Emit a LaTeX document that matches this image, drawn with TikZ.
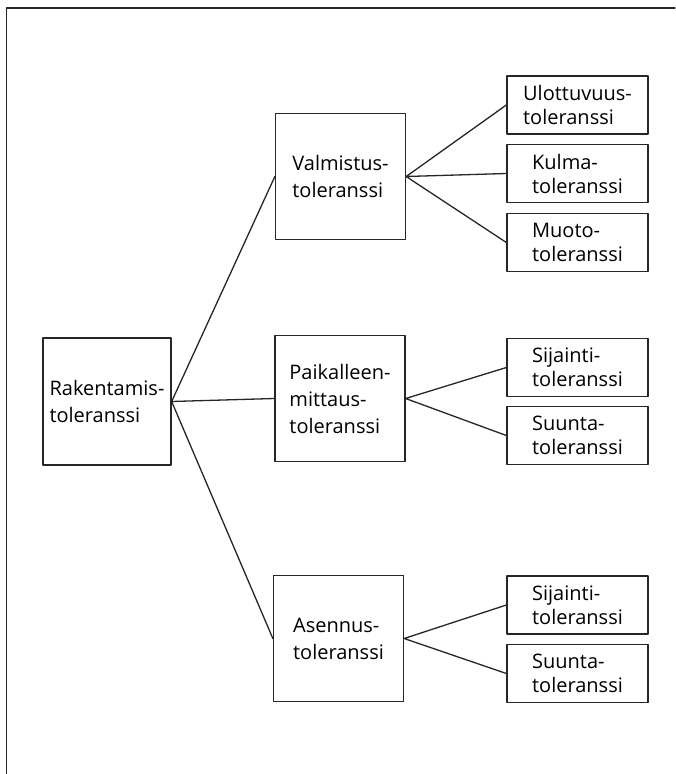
\documentclass[tikz,border=0pt]{standalone}
\usepackage{fontspec}
\setmainfont{Open Sans}
\begin{document}
\begin{tikzpicture}[x=1pt,y=-1pt, font=\fontsize{20}{27}\selectfont, line join=round, line cap=round,
  box/.style={draw=black!85, line width=1.3pt, minimum width=130pt, minimum height=126pt, align=left, inner sep=0pt},
  small/.style={draw=black!85, line width=1.3pt, minimum width=141pt, minimum height=58pt, align=left, inner sep=0pt, font=\fontsize{20}{24}\selectfont},
  link/.style={draw=black!85, line width=1.3pt}]
  \useasboundingbox (0,0) rectangle (675,774);
  \draw[link] (6.5,774)--(6.5,8)--(675,8);
  \node[box, minimum width=128pt, minimum height=127pt] (rak) at (107,401.5) {Rakentamis-\\toleranssi};
  \node[box] (val) at (340.5,176.5) {Valmistus-\\toleranssi};
  \node[box] (pai) at (340,398.5) {Paikalleen-\\mittaus-\\toleranssi};
  \node[box] (ase) at (338.5,638.5) {Asennus-\\toleranssi};
  \node[small] (ulo) at (577.5,105) {Ulottuvuus-\\toleranssi};
  \node[small] (kul) at (577.5,173.5) {Kulma-\\toleranssi};
  \node[small] (muo) at (577.5,242.5) {Muoto-\\toleranssi};
  \node[small] (sij1) at (577.5,367.5) {Sijainti-\\toleranssi};
  \node[small] (suu1) at (577.5,435.5) {Suunta-\\toleranssi};
  \node[small] (sij2) at (577.5,605) {Sijainti-\\toleranssi};
  \node[small] (suu2) at (577.5,673.5) {Suunta-\\toleranssi};
  \draw[link] (rak.east)--(val.west) (rak.east)--(pai.west) (rak.east)--(ase.west);
  \draw[link] (val.east)--(ulo.west) (val.east)--(kul.west) (val.east)--(muo.west);
  \draw[link] (pai.east)--(sij1.west) (pai.east)--(suu1.west);
  \draw[link] (ase.east)--(sij2.west) (ase.east)--(suu2.west);
\end{tikzpicture}
\end{document}
